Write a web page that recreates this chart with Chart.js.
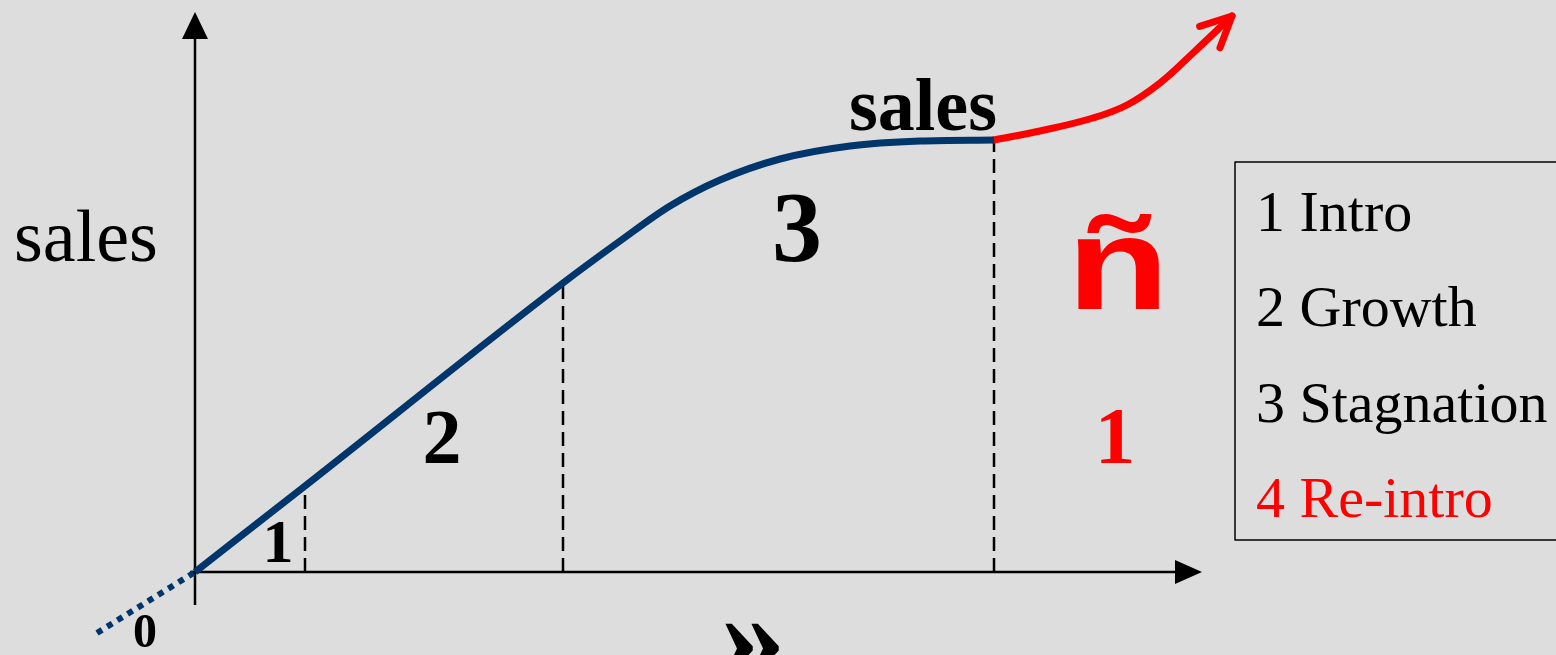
<!DOCTYPE html>
<html>
<head>
<meta charset="utf-8">
<script src="https://cdn.jsdelivr.net/npm/chart.js@4"></script>
<style>
    body { margin: 0; background: #dddddd; }
    #wrap { width: 1556px; height: 655px; position: relative; background: #dddddd; overflow: hidden; }
</style>
</head>
<body>
<div id="wrap"><canvas id="lifeCycle" width="1556" height="655"></canvas></div>
<script>
// curve points, origin of the axes = (0, 0)
const salesCurve = [
    { x: 0, y: 0 }, { x: 110, y: 86 }, { x: 368, y: 289 }, { x: 425, y: 331 },
    { x: 475, y: 366 }, { x: 525, y: 392 }, { x: 585, y: 413 }, { x: 655, y: 426 },
    { x: 725, y: 431 }, { x: 799, y: 432 }
];
const reintroCurve = [
    { x: 799, y: 432 }, { x: 845, y: 441 }, { x: 898, y: 454 }, { x: 932, y: 467 },
    { x: 965, y: 489 }, { x: 998, y: 519 }, { x: 1037, y: 556 }
];
const beforeZero = [{ x: -98, y: -61 }, { x: 0, y: 0 }];
const stageEnds = [110, 368, 799];
const stageTops = [86, 289, 432];

const stageLabels = ['1', '2', '3'];
const legendLabels = ['1 Intro', '2 Growth', '3 Stagnation', '4 Re-intro'];
const legendColors = ['#000000', '#000000', '#000000', '#ff0000'];

const BLUE = '#00366b';
const RED = '#ff0000';

document.addEventListener('DOMContentLoaded', () => {
    const canvas = document.getElementById('lifeCycle');

    const datasets = [
        {
            label: 'sales',
            data: salesCurve,
            borderColor: BLUE,
            borderWidth: 7,
            cubicInterpolationMode: 'monotone',
            pointRadius: 0
        },
        {
            label: 'Re-intro',
            data: reintroCurve,
            borderColor: RED,
            borderWidth: 7,
            borderCapStyle: 'round',
            tension: 0.4,
            pointRadius: 0
        },
        {
            label: 'before',
            data: beforeZero,
            borderColor: BLUE,
            borderWidth: 6,
            borderDash: [6, 6],
            pointRadius: 0
        }
    ];
    stageEnds.forEach((x, i) => {
        datasets.push({
            label: 'stage ' + (i + 1),
            data: [{ x: x, y: 0 }, { x: x, y: stageTops[i] }],
            borderColor: '#000000',
            borderWidth: 2.5,
            borderDash: [14, 7],
            pointRadius: 0
        });
    });

    const serif = '"Liberation Serif", "Times New Roman", serif';

    function text(ctx, str, x, y, font, color, align) {
        ctx.font = font;
        ctx.fillStyle = color;
        ctx.textAlign = align || 'center';
        ctx.textBaseline = 'alphabetic';
        ctx.fillText(str, x, y);
    }

    const overlay = {
        id: 'overlay',
        beforeDatasetsDraw(chart) {
            const ctx = chart.ctx;
            const xs = chart.scales.x, ys = chart.scales.y;
            const ox = xs.getPixelForValue(0), oy = ys.getPixelForValue(0);
            ctx.save();
            ctx.strokeStyle = '#000';
            ctx.fillStyle = '#000';
            ctx.lineWidth = 2.5;
            // y axis
            ctx.beginPath();
            ctx.moveTo(ox, oy + 33);
            ctx.lineTo(ox, 36);
            ctx.stroke();
            ctx.beginPath();
            ctx.moveTo(ox, 12);
            ctx.lineTo(ox - 13, 39);
            ctx.lineTo(ox + 13, 39);
            ctx.closePath();
            ctx.fill();
            // x axis
            ctx.beginPath();
            ctx.moveTo(ox - 5, oy);
            ctx.lineTo(1178, oy);
            ctx.stroke();
            ctx.beginPath();
            ctx.moveTo(1202, oy);
            ctx.lineTo(1175, oy - 12);
            ctx.lineTo(1175, oy + 12);
            ctx.closePath();
            ctx.fill();
            ctx.restore();
        },
        afterDatasetsDraw(chart) {
            const ctx = chart.ctx;
            ctx.save();
            // arrow head at end of re-intro curve
            const pts = chart.getDatasetMeta(1).data;
            const tip = pts[pts.length - 1];
            const ang = Math.atan2(tip.y - tip.cp1y, tip.x - tip.cp1x);
            const back = ang + Math.PI;
            ctx.strokeStyle = RED;
            ctx.lineWidth = 7;
            ctx.lineCap = 'round';
            ctx.lineJoin = 'round';
            ctx.beginPath();
            ctx.moveTo(tip.x + 34 * Math.cos(back - 0.45), tip.y + 34 * Math.sin(back - 0.45));
            ctx.lineTo(tip.x, tip.y);
            ctx.lineTo(tip.x + 34 * Math.cos(back + 0.45), tip.y + 34 * Math.sin(back + 0.45));
            ctx.stroke();

            // labels
            text(ctx, 'sales', 14, 261, '74px ' + serif, '#000', 'left');
            text(ctx, 'sales', 849, 130, 'bold 74px ' + serif, '#000', 'left');
            text(ctx, stageLabels[0], 278, 562, 'bold 62px ' + serif, '#000');
            text(ctx, stageLabels[1], 442, 463, 'bold 78px ' + serif, '#000');
            text(ctx, stageLabels[2], 797, 260, 'bold 100px ' + serif, '#000');
            text(ctx, '1', 1115, 463, 'bold 81px ' + serif, RED);
            text(ctx, '0', 145, 647, 'bold 48px ' + serif, '#000');
            text(ctx, '»', 753, 678, 'bold 130px ' + serif, '#000');

            ctx.save();
            ctx.translate(1118, 309);
            ctx.scale(1.28, 1);
            text(ctx, 'ñ', 0, 0, 'bold 131px "Liberation Sans", Arial, sans-serif', RED);
            ctx.restore();

            // legend box
            ctx.strokeStyle = '#000';
            ctx.lineWidth = 1.5;
            ctx.strokeRect(1235, 162, 340, 378);
            legendLabels.forEach((lab, i) => {
                text(ctx, lab, 1256, 231 + i * 95.3, '58px ' + serif, legendColors[i], 'left');
            });
            ctx.restore();
        }
    };

    new Chart(canvas, {
        type: 'line',
        data: { datasets: datasets },
        options: {
            responsive: false,
            devicePixelRatio: 1,
            animation: false,
            layout: { padding: 0 },
            scales: {
                x: { type: 'linear', min: -195, max: 1361, display: false },
                y: { type: 'linear', min: -83, max: 572, display: false }
            },
            plugins: {
                legend: { display: false },
                tooltip: { enabled: false }
            }
        },
        plugins: [overlay]
    });
});
</script>
</body>
</html>
